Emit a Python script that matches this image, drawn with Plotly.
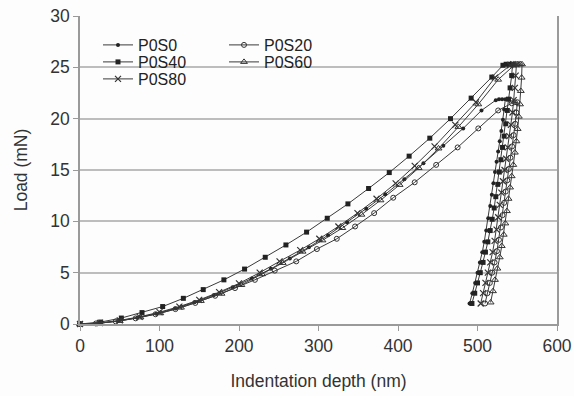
import plotly.graph_objects as go

# ---------------- data ----------------
# each series: loading branch, peak hold, unloading branch
p0s0_depth = [0, 24, 48, 72, 96, 120, 144, 168, 192, 216, 240, 264, 288, 312, 336, 360, 384, 408, 432, 457, 482, 505,
              523, 527, 531, 535,
              533.5, 532, 530, 528, 526, 524, 522, 520, 518, 516, 513.5, 511, 508.5, 506, 503, 500, 497, 493.5, 490]
p0s0_load = [0, 0.08, 0.29, 0.60, 1.01, 1.52, 2.12, 2.81, 3.58, 4.43, 5.37, 6.39, 7.48, 8.65, 9.90, 11.23, 12.63, 14.10, 15.65, 17.35, 19.05, 20.8,
             21.8, 21.9, 21.9, 21.9,
             20.9, 19.9, 18.8, 17.8, 16.8, 15.8, 14.8, 13.7, 12.6, 11.5, 10.3, 9.1, 8.0, 7.0, 6.0, 5.0, 4.0, 3.0, 2.0]

p0s20_depth = [0, 20, 45, 70, 95, 120, 145, 170, 195, 220, 245, 272, 298, 323, 346, 370, 394, 421, 448, 475, 501, 526,
               543, 547, 550,
               549, 547.5, 545.5, 543.5, 541.5, 539.5, 537.5, 535.5, 533.5, 531.5, 529.5, 527, 524.5, 521.5, 518.5, 515.5, 512.5, 509.5]
p0s20_load = [0, 0.05, 0.25, 0.55, 0.95, 1.45, 2.05, 2.75, 3.5, 4.3, 5.2, 6.1, 7.3, 8.3, 9.5, 10.8, 12.3, 13.8, 15.5, 17.2, 19.05, 20.8,
              21.5, 21.6, 21.6,
              20.6, 19.5, 18.4, 17.3, 16.2, 15.1, 14.0, 12.9, 11.8, 10.6, 9.4, 8.2, 7.1, 6.0, 5.0, 4.0, 3.0, 2.0]

p0s40_depth = [0, 26, 52, 78, 104, 130, 155, 181, 207, 233, 259, 285, 311, 337, 363, 389, 414, 440, 466, 492, 518,
               532, 536, 540, 544,
               543, 541, 539, 537.5, 535.5, 533.5, 531.5, 529.5, 527.5, 525.5, 523, 521, 518.5, 516, 513, 510, 507, 503.5, 500, 496.5, 493]
p0s40_load = [0, 0.19, 0.58, 1.11, 1.7, 2.5, 3.35, 4.3, 5.35, 6.5, 7.7, 8.95, 10.3, 11.7, 13.2, 14.75, 16.35, 18.1, 20.0, 22.0, 24.05,
              25.2, 25.3, 25.3, 25.3,
              24.2, 23.0, 21.9, 20.8, 19.5, 18.3, 17.2, 16.0, 14.8, 13.6, 12.4, 11.3, 10.2, 9.1, 8.0, 7.0, 6.0, 5.0, 4.0, 3.0, 2.0]

p0s60_depth = [0, 25, 50, 76, 101, 127, 152, 178, 203, 229, 255, 280, 305, 330, 354, 378, 402, 426, 451, 476, 501, 526,
               546, 550, 554, 556,
               555.5, 554.5, 553.5, 552, 550.5, 549, 547, 545, 543, 541, 539, 537, 535, 533, 530.5, 528, 525, 522, 519.5, 516.5]
p0s60_load = [0, 0.08, 0.3, 0.65, 1.05, 1.6, 2.25, 2.95, 3.8, 4.85, 5.95, 7.05, 8.15, 9.35, 10.65, 12.05, 13.55, 15.2, 17.1, 19.2, 21.4, 23.8,
              25.2, 25.3, 25.3, 25.3,
              24.0, 22.7, 21.4, 20.2, 19.0, 17.8, 16.7, 15.5, 14.4, 13.3, 12.2, 11.0, 9.8, 8.7, 7.6, 6.5, 5.4, 4.3, 3.2, 2.1]

p0s80_depth = [0, 25, 50, 75, 100, 125, 150, 175, 200, 226, 251, 277, 301, 325, 349, 373, 397, 421, 446, 472, 498, 522,
               541, 545, 549,
               548, 547, 545.5, 544, 542, 540, 538, 536, 534, 532, 530, 528, 526, 524, 521.5, 519, 516, 513, 510, 507, 504]
p0s80_load = [0, 0.1, 0.35, 0.7, 1.15, 1.7, 2.35, 3.1, 3.95, 5.0, 6.1, 7.2, 8.3, 9.5, 10.8, 12.2, 13.7, 15.4, 17.3, 19.4, 21.6, 24.0,
              25.2, 25.3, 25.3,
              24.2, 23.0, 21.8, 20.6, 19.4, 18.3, 17.2, 16.1, 15.0, 13.9, 12.8, 11.6, 10.4, 9.2, 8.1, 7.0, 6.0, 5.0, 4.0, 3.0, 2.0]

series_names = ["P0S0", "P0S20", "P0S40", "P0S60", "P0S80"]
x_ticks = [0, 100, 200, 300, 400, 500, 600]
y_ticks = [0, 5, 10, 15, 20, 25, 30]

# ---------------- styling ----------------
FONT = "Liberation Sans, Arial, sans-serif"
LINE = "#3a3a3a"
FS = 17.5
LFS = 16
styles = {
    "P0S0": dict(symbol="circle", size=4, color="#222", line=dict(width=0)),
    "P0S20": dict(symbol="circle-open", size=5, color="#333", line=dict(width=1)),
    "P0S40": dict(symbol="square", size=5, color="#222", line=dict(width=0)),
    "P0S60": dict(symbol="triangle-up-open", size=6, color="#333", line=dict(width=1)),
    "P0S80": dict(symbol="x-thin-open", size=6, color="#333", line=dict(width=1.2)),
}
data = {
    "P0S0": (p0s0_depth, p0s0_load),
    "P0S20": (p0s20_depth, p0s20_load),
    "P0S40": (p0s40_depth, p0s40_load),
    "P0S60": (p0s60_depth, p0s60_load),
    "P0S80": (p0s80_depth, p0s80_load),
}
legend_ids = {"P0S0": "legend", "P0S40": "legend2", "P0S80": "legend3",
              "P0S20": "legend4", "P0S60": "legend5"}

fig = go.Figure()
for name in series_names:
    xs, ys = data[name]
    fig.add_trace(go.Scatter(
        x=xs, y=ys, name=name, mode="lines+markers",
        line=dict(color=LINE, width=1),
        marker=styles[name], cliponaxis=False,
        legend=legend_ids[name], showlegend=True,
    ))

# paper coords: plot area x 80..557 px, y 16..324 px
def lx(px):
    return (px - 80) / 477.0

def ly(py):
    return (324 - py) / 308.0

leg_common = dict(font=dict(family=FONT, size=LFS, color="#222"), bgcolor="rgba(0,0,0,0)",
                  itemwidth=30, xanchor="left", yanchor="middle", tracegroupgap=0, visible=True)
col1, col2 = lx(98), lx(224)
rows = [ly(45), ly(62), ly(79)]

fig.update_layout(
    width=574, height=396,
    showlegend=True,
    margin=dict(l=80, r=17, t=16, b=72, autoexpand=False),
    paper_bgcolor="#fdfdfd", plot_bgcolor="#fdfdfd",
    font=dict(family=FONT, size=FS, color="#333"),
    legend=dict(x=col1, y=rows[0], **leg_common),
    legend2=dict(x=col1, y=rows[1], **leg_common),
    legend3=dict(x=col1, y=rows[2], **leg_common),
    legend4=dict(x=col2, y=rows[0], **leg_common),
    legend5=dict(x=col2, y=rows[1], **leg_common),
    xaxis=dict(range=[0, 600], tickvals=x_ticks, showgrid=False, zeroline=False, automargin=False,
               showline=True, linecolor="#9a9a9a", linewidth=1.5,
               ticks="outside", ticklen=5, tickcolor="#9a9a9a",
               tickfont=dict(size=FS, color="#333"),
               title=dict(text="Indentation depth (nm)", font=dict(size=FS, color="#333"), standoff=20)),
    yaxis=dict(range=[0, 30], tickvals=y_ticks, showgrid=True, gridcolor="#bdbdbd", gridwidth=1.5,
               zeroline=False, showline=True, linecolor="#9a9a9a", linewidth=1.5, mirror=True, automargin=False,
               ticks="outside", ticklen=5, tickcolor="#9a9a9a",
               tickfont=dict(size=FS, color="#333"),
               title=dict(text="Load (mN)", font=dict(size=FS, color="#333"), standoff=18)),
)

fig.write_html("out.html")
